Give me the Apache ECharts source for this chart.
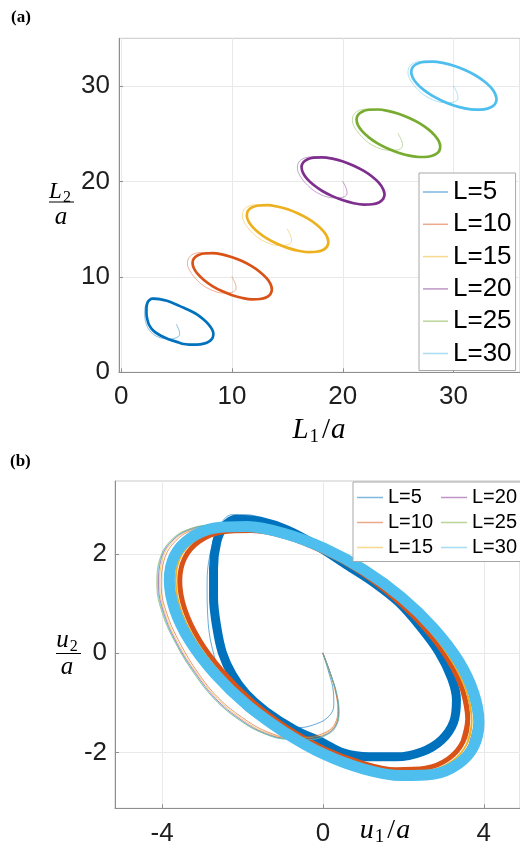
<!DOCTYPE html>
<html>
<head>
<meta charset="utf-8">
<script src="https://cdn.jsdelivr.net/npm/echarts@6/dist/echarts.min.js"></script>
<style>
html,body{margin:0;padding:0;background:#fff;}
#chart{width:520px;height:849px;}
</style>
</head>
<body>
<div id="chart"></div>
<script>
// Lattice spacings of the six runs
const Ls = [5, 10, 15, 20, 25, 30];
const names = ['L=5', 'L=10', 'L=15', 'L=20', 'L=25', 'L=30'];

// Settled orbits in the displacement plane (u1/a, u2/a); each list runs a little past
// one full turn so the loop closes without a seam
const cycle5 = [
  [-2.47, 2.55],
  [-2.15, 2.71], [-1.56, 2.67], [-0.88, 2.49], [-0.14, 2.17], [0.60, 1.78], [1.28, 1.42],
  [1.87, 1.04], [2.41, 0.55], [2.88, 0.03], [3.20, -0.50], [3.32, -0.94], [3.25, -1.39],
  [2.95, -1.75], [2.46, -1.99], [1.82, -2.09], [1.14, -2.09], [0.50, -2.01], [0.01, -1.81],
  [-0.73, -1.53], [-1.42, -1.17], [-1.91, -0.82], [-2.25, -0.44], [-2.50, 0.01], [-2.64, 0.53],
  [-2.72, 1.12], [-2.72, 1.72], [-2.64, 2.25], [-2.47, 2.55], [-2.15, 2.71], [-1.56, 2.67]
];
const cycle10 = [
  [3.48, -0.76],
  [3.60, -1.32], [3.48, -1.79], [3.12, -2.13], [2.55, -2.32], [1.81, -2.35], [0.95, -2.21],
  [0.02, -1.92], [-0.91, -1.49], [-1.77, -0.96], [-2.51, -0.35], [-3.08, 0.28], [-3.44, 0.90],
  [-3.56, 1.46], [-3.44, 1.92], [-3.08, 2.26], [-2.51, 2.45], [-1.77, 2.48], [-0.91, 2.35],
  [0.02, 2.05], [0.95, 1.63], [1.81, 1.09], [2.55, 0.49], [3.12, -0.14], [3.48, -0.76],
  [3.60, -1.32], [3.48, -1.79]
];
const cycle15 = [
  [3.58, -0.79],
  [3.70, -1.36], [3.58, -1.83], [3.21, -2.18], [2.62, -2.37], [1.86, -2.40], [0.97, -2.26],
  [0.02, -1.96], [-0.93, -1.53], [-1.82, -0.99], [-2.58, -0.37], [-3.17, 0.27], [-3.54, 0.90],
  [-3.66, 1.47], [-3.54, 1.95], [-3.17, 2.29], [-2.58, 2.48], [-1.82, 2.51], [-0.93, 2.37],
  [0.02, 2.08], [0.97, 1.64], [1.86, 1.10], [2.62, 0.49], [3.21, -0.16], [3.58, -0.79],
  [3.70, -1.36], [3.58, -1.83]
];
const cycle20 = [
  [3.64, -0.80],
  [3.77, -1.37], [3.64, -1.85], [3.27, -2.20], [2.67, -2.39], [1.90, -2.42], [0.99, -2.28],
  [0.03, -1.98], [-0.94, -1.54], [-1.85, -1.00], [-2.62, -0.38], [-3.22, 0.27], [-3.59, 0.90],
  [-3.72, 1.48], [-3.59, 1.96], [-3.22, 2.30], [-2.62, 2.50], [-1.85, 2.53], [-0.94, 2.39],
  [0.03, 2.09], [0.99, 1.65], [1.90, 1.10], [2.67, 0.49], [3.27, -0.16], [3.64, -0.80],
  [3.77, -1.37], [3.64, -1.85]
];
const cycle25 = [
  [3.68, -0.80],
  [3.80, -1.38], [3.68, -1.86], [3.30, -2.21], [2.70, -2.41], [1.91, -2.44], [1.00, -2.30],
  [0.03, -1.99], [-0.95, -1.55], [-1.86, -1.01], [-2.65, -0.38], [-3.25, 0.27], [-3.63, 0.90],
  [-3.75, 1.48], [-3.63, 1.96], [-3.25, 2.31], [-2.65, 2.51], [-1.86, 2.54], [-0.95, 2.40],
  [0.03, 2.09], [1.00, 1.65], [1.91, 1.11], [2.70, 0.48], [3.30, -0.17], [3.68, -0.80],
  [3.80, -1.38], [3.68, -1.86]
];
const cycle30 = [
  [3.75, -0.80],
  [3.88, -1.39], [3.75, -1.88], [3.37, -2.23], [2.76, -2.44], [1.96, -2.47], [1.03, -2.34],
  [0.03, -2.04], [-0.96, -1.59], [-1.89, -1.04], [-2.69, -0.41], [-3.31, 0.25], [-3.69, 0.89],
  [-3.82, 1.48], [-3.69, 1.97], [-3.31, 2.32], [-2.69, 2.53], [-1.89, 2.56], [-0.96, 2.42],
  [0.03, 2.12], [1.03, 1.68], [1.96, 1.13], [2.76, 0.50], [3.37, -0.15], [3.75, -0.80],
  [3.88, -1.39], [3.75, -1.88]
];

// Start-up transients, leaving the origin before joining the orbit
const trans5 = [
  [0, 0], [0.15, -0.4], [0.26, -0.78], [0.27, -1.05], [0.15, -1.27], [-0.15, -1.42], [-0.6, -1.5],
  [-1.1, -1.48], [-1.6, -1.33], [-2.05, -1.05], [-2.45, -0.6], [-2.72, 0.0], [-2.86, 0.7],
  [-2.88, 1.4], [-2.78, 2.1], [-2.55, 2.6], [-2.25, 2.8], [-1.9, 2.8], [-1.4, 2.7]
];
const trans10 = [
  [0, 0], [0.18, -0.4], [0.32, -0.8], [0.37, -1.15], [0.3, -1.42], [0.1, -1.58], [-0.3, -1.68],
  [-0.8, -1.7], [-1.4, -1.58], [-2.0, -1.3], [-2.6, -0.9], [-3.1, -0.4], [-3.55, 0.2],
  [-3.88, 0.8], [-4.02, 1.35], [-3.95, 1.88], [-3.65, 2.28], [-3.2, 2.5], [-2.7, 2.56], [-2.2, 2.55]
];
const trans15 = [
  [0, 0], [0.18, -0.41], [0.33, -0.82], [0.38, -1.17], [0.31, -1.44], [0.1, -1.6], [-0.3, -1.7],
  [-0.82, -1.71], [-1.42, -1.6], [-2.03, -1.32], [-2.63, -0.91], [-3.14, -0.4], [-3.6, 0.2],
  [-3.92, 0.8], [-4.06, 1.36], [-3.99, 1.9], [-3.68, 2.3], [-3.22, 2.51], [-2.72, 2.57], [-2.2, 2.56]
];
const trans20 = [
  [0, 0], [0.19, -0.41], [0.34, -0.83], [0.39, -1.18], [0.32, -1.45], [0.11, -1.62], [-0.3, -1.72],
  [-0.84, -1.72], [-1.45, -1.61], [-2.06, -1.33], [-2.66, -0.92], [-3.17, -0.4], [-3.63, 0.2],
  [-3.95, 0.8], [-4.09, 1.37], [-4.02, 1.91], [-3.7, 2.31], [-3.24, 2.52], [-2.74, 2.58], [-2.2, 2.57]
];
const trans25 = [
  [0, 0], [0.19, -0.42], [0.35, -0.84], [0.4, -1.19], [0.33, -1.46], [0.12, -1.63], [-0.3, -1.73],
  [-0.86, -1.73], [-1.47, -1.62], [-2.09, -1.34], [-2.69, -0.93], [-3.2, -0.41], [-3.66, 0.2],
  [-3.99, 0.8], [-4.13, 1.38], [-4.05, 1.92], [-3.73, 2.32], [-3.26, 2.53], [-2.75, 2.59], [-2.2, 2.58]
];
const trans30 = [
  [0, 0], [0.19, -0.42], [0.35, -0.84], [0.4, -1.2], [0.33, -1.47], [0.12, -1.64], [-0.3, -1.74],
  [-0.85, -1.74], [-1.46, -1.62], [-2.08, -1.34], [-2.68, -0.93], [-3.19, -0.41], [-3.65, 0.2],
  [-3.97, 0.8], [-4.11, 1.37], [-4.04, 1.91], [-3.72, 2.31], [-3.25, 2.52], [-2.74, 2.58], [-2.2, 2.58]
];

// Tick positions
const xTicksA = [0, 10, 20, 30];
const yTicksA = [0, 10, 20, 30];
const xTicksB = [-4, 0, 4];
const yTicksB = [-2, 0, 2];

const cycles = [cycle5, cycle10, cycle15, cycle20, cycle25, cycle30];
const transients = [trans5, trans10, trans15, trans20, trans25, trans30];

const palette = ['#0072BD', '#D95319', '#EDB120', '#7E2F8E', '#77AC30', '#4DBEEE'];
const orbitWidthB = [9, 5, 1.8, 1.6, 1.6, 11];

const SANS = '"Liberation Sans", Arial, Helvetica, sans-serif';
const SERIF = '"Liberation Serif", "DejaVu Serif", serif';

function lineSeries(name, color, data, gi, width, opacity, smooth) {
  return {
    type: 'line', name: name, xAxisIndex: gi, yAxisIndex: gi,
    data: data, color: color, itemStyle: { color: color },
    symbol: 'none', showSymbol: false, smooth: smooth,
    lineStyle: { color: color, width: width, opacity: opacity, cap: 'round', join: 'round' },
    animation: false, silent: true, clip: true, z: 2
  };
}

const series = [];
Ls.forEach((L, i) => {
  // panel (a): absolute coordinates L1/a, L2/a around (L, L)
  const shift = p => [L + p[0], L + p[1]];
  series.push(lineSeries(names[i], palette[i], transients[i].map(shift), 0, 1, 0.45, 0.4));
  series.push(lineSeries(names[i], palette[i], cycles[i].map(shift), 0, 2.7, 1, 0.34));
});
Ls.forEach((L, i) => {
  // panel (b): displacement plane
  series.push(lineSeries(names[i], palette[i], transients[i], 1, 1, 0.6, 0.4));
  series.push(lineSeries(names[i], palette[i], cycles[i], 1, orbitWidthB[i], 1, 0.34));
});

function valueAxis(gi, min, max, ticks, margin) {
  return {
    type: 'value', gridIndex: gi, min: min, max: max,
    axisLine: { show: true, onZero: false, lineStyle: { color: '#8f8f8f', width: 1 } },
    axisTick: { show: true, inside: true, length: 4, customValues: ticks, lineStyle: { color: '#8f8f8f' } },
    axisLabel: {
      customValues: ticks, margin: margin, color: '#1e1e1e',
      fontFamily: SANS, fontSize: 26
    },
    splitLine: { show: true, lineStyle: { color: '#e9e9e9', width: 1 } }
  };
}

// Rich-text styles for italic maths with a subscript
function mathRich(size, subSize, subLine) {
  return {
    v: { fill: '#000', fontFamily: SERIF, fontStyle: 'italic', fontSize: size, lineHeight: size + 4 },
    s: { fill: '#000', fontFamily: SERIF, fontSize: subSize, lineHeight: subLine, verticalAlign: 'bottom', padding: [0, 2, 0, 1] },
    n: { fill: '#000', fontFamily: SERIF, fontSize: size, lineHeight: size + 4, padding: [0, 1, 0, 1] }
  };
}

const graphic = [
  { type: 'text', x: 11, y: 9, z: 10, style: { text: '(a)', fill: '#000', font: 'bold 17px ' + SERIF } },
  { type: 'text', x: 10, y: 453, z: 10, style: { text: '(b)', fill: '#000', font: 'bold 17px ' + SERIF } },
  // panel (a) axis titles
  { type: 'text', x: 319, y: 430, z: 10,
    style: { text: '{v|L}{s|1}{n|/}{v|a}', rich: mathRich(29, 19, 18), align: 'center', verticalAlign: 'middle' } },
  { type: 'text', x: 61, y: 192, z: 10,
    style: { text: '{v|L}{s|2}', rich: mathRich(23, 16, 17), align: 'center', verticalAlign: 'middle' } },
  { type: 'line', z: 10, shape: { x1: 49, y1: 202, x2: 74, y2: 202 }, style: { stroke: '#000', lineWidth: 1 } },
  { type: 'text', x: 61, y: 217, z: 10,
    style: { text: '{v|a}', rich: mathRich(25, 16, 17), align: 'center', verticalAlign: 'middle' } },
  // panel (b) axis titles
  { type: 'text', x: 385, y: 831, z: 10,
    style: { text: '{v|u}{s|1}{n|/}{v|a}', rich: mathRich(28, 19, 18), align: 'center', verticalAlign: 'middle' } },
  { type: 'text', x: 68, y: 640, z: 10,
    style: { text: '{v|u}{s|2}', rich: mathRich(25, 16, 15), align: 'center', verticalAlign: 'middle' } },
  { type: 'line', z: 10, shape: { x1: 56, y1: 653.5, x2: 81, y2: 653.5 }, style: { stroke: '#000', lineWidth: 1 } },
  { type: 'text', x: 67, y: 667, z: 10,
    style: { text: '{v|a}', rich: mathRich(25, 16, 17), align: 'center', verticalAlign: 'middle' } }
];

const option = {
  backgroundColor: '#fff',
  animation: false,
  grid: [
    { left: 119, top: 38.3, width: 405, height: 334, show: true, borderColor: '#c9c9c9', borderWidth: 1, backgroundColor: 'transparent' },
    { left: 115, top: 481, width: 410.4, height: 327.3, show: true, borderColor: '#c9c9c9', borderWidth: 1, backgroundColor: 'transparent' }
  ],
  xAxis: [
    valueAxis(0, -0.2, 36, xTicksA, 12),
    valueAxis(1, -5.17, 4.9, xTicksB, 13)
  ],
  yAxis: [
    valueAxis(0, 0, 35, yTicksA, 9),
    valueAxis(1, -3.13, 3.48, yTicksB, 8)
  ],
  legend: [
    {
      orient: 'vertical', left: 419, top: 173, padding: [6, 4, 4, 4],
      icon: 'rect', itemWidth: 25, itemHeight: 1.5, itemGap: 6.3,
      itemStyle: { opacity: 0.5 },
      textStyle: { fontFamily: SANS, fontSize: 26, lineHeight: 26, color: '#000' },
      backgroundColor: '#fff', borderColor: '#a8a8a8', borderWidth: 1, borderRadius: 0,
      selectedMode: false, data: names
    },
    {
      orient: 'vertical', left: 353, top: 482, height: 88, padding: [5.5, 4, 4, 4],
      icon: 'rect', itemWidth: 26, itemHeight: 1.5, itemGap: 5,
      itemStyle: { opacity: 0.5 },
      textStyle: { fontFamily: SANS, fontSize: 20, lineHeight: 20, color: '#000', width: 48 },
      backgroundColor: '#fff', borderColor: '#a8a8a8', borderWidth: 1, borderRadius: 0,
      selectedMode: false, data: names
    }
  ],
  graphic: graphic,
  series: series
};

const chart = echarts.init(document.getElementById('chart'), null, { renderer: 'canvas' });
chart.setOption(option);
</script>
</body>
</html>
